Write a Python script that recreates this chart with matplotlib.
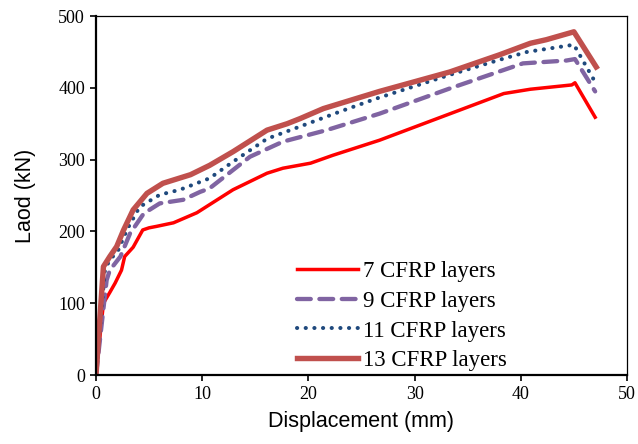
import matplotlib
matplotlib.use("Agg")
import matplotlib.pyplot as plt

# Load-displacement curves for beams strengthened with different CFRP layer counts
disp_7 = [0, 0.7, 1.3, 1.8, 2.4, 2.7, 3.5, 4.4, 5.0, 5.7, 7.3, 9.5, 12.9, 16.1, 17.6,
          20.2, 22.3, 26.7, 32.1, 38.4, 40.9, 44.8, 45.1, 47.0]
load_7 = [0, 100, 115, 128, 146, 165, 178, 202, 205, 207, 212, 226, 258, 281, 288,
          295, 306, 327, 357, 392, 398, 404, 407, 359]

disp_9 = [0, 1.0, 1.3, 2.3, 3.2, 4.5, 6.0, 8.2, 9.8, 10.7, 14.5, 17.6, 21.7, 26.7,
          33.3, 40.2, 44.3, 45.1, 47.0]
load_9 = [0, 132, 146, 165, 197, 225, 239, 244, 255, 260, 304, 325, 341, 364,
          399, 434, 438, 440, 395]

disp_11 = [0, 0.85, 1.3, 2.1, 2.9, 4.1, 6.0, 7.9, 10.7, 12.9, 16.1, 19.2, 23.0, 26.4,
           33.3, 38.0, 40.6, 45.0, 47.0]
load_11 = [0, 148, 160, 174, 202, 234, 251, 258, 274, 297, 329, 346, 367, 385,
           418, 439, 450, 460, 408]

disp_13 = [0, 0.7, 1.3, 1.95, 2.6, 3.5, 4.8, 6.3, 8.9, 10.7, 12.9, 16.1, 18.0, 19.2,
           21.4, 26.7, 33.3, 38.0, 40.9, 42.4, 45.0, 47.1]
load_13 = [0, 151, 165, 179, 202, 230, 253, 267, 279, 292, 311, 341, 350, 357,
           371, 395, 422, 446, 462, 467, 478, 429]

labels = ["7 CFRP layers", "9 CFRP layers", "11 CFRP layers", "13 CFRP layers"]
x_ticks = [0, 10, 20, 30, 40, 50]
y_ticks = [0, 100, 200, 300, 400, 500]

fig = plt.figure(figsize=(6.38, 4.44), dpi=100)
ax = fig.add_axes([96 / 638, 69 / 444, 531 / 638, 359 / 444])

ax.plot(disp_7, load_7, color="#FF0000", lw=2.5, label=labels[0],
        solid_joinstyle="round")
ax.plot(disp_9, load_9, color="#8064A2", lw=3.1, linestyle=(0, (3.2, 2.0)),
        dash_capstyle="round", label=labels[1])
ax.plot(disp_11, load_11, color="#1F497D", lw=2.9, linestyle=(0, (0.05, 2.1)),
        dash_capstyle="round", label=labels[2])
ax.plot(disp_13, load_13, color="#C0504D", lw=3.9, label=labels[3],
        solid_joinstyle="round")

ax.set_xlim(0, 50)
ax.set_ylim(0, 500)
ax.set_xticks(x_ticks)
ax.set_yticks(y_ticks)
ax.tick_params(direction="out", length=4, width=1.2, labelsize=13, pad=4)
for lbl in ax.get_xticklabels() + ax.get_yticklabels():
    lbl.set_fontfamily("Liberation Serif")

for side in ("left", "bottom"):
    ax.spines[side].set_linewidth(1.6)
for side in ("top", "right"):
    ax.spines[side].set_linewidth(0.9)

ax.set_xlabel("Displacement (mm)", fontsize=15.5, family="Liberation Sans", labelpad=6)
ax.set_ylabel("Laod (kN)", fontsize=15.5, family="Liberation Sans", labelpad=16)

leg = ax.legend(loc="center left", bbox_to_anchor=(0.3785, 0.164), frameon=False,
                borderpad=0, borderaxespad=0, handlelength=2.65, handletextpad=0.25,
                labelspacing=0.38, prop={"family": "Liberation Serif", "size": 16.5})

fig.savefig("out.png", dpi=100)
